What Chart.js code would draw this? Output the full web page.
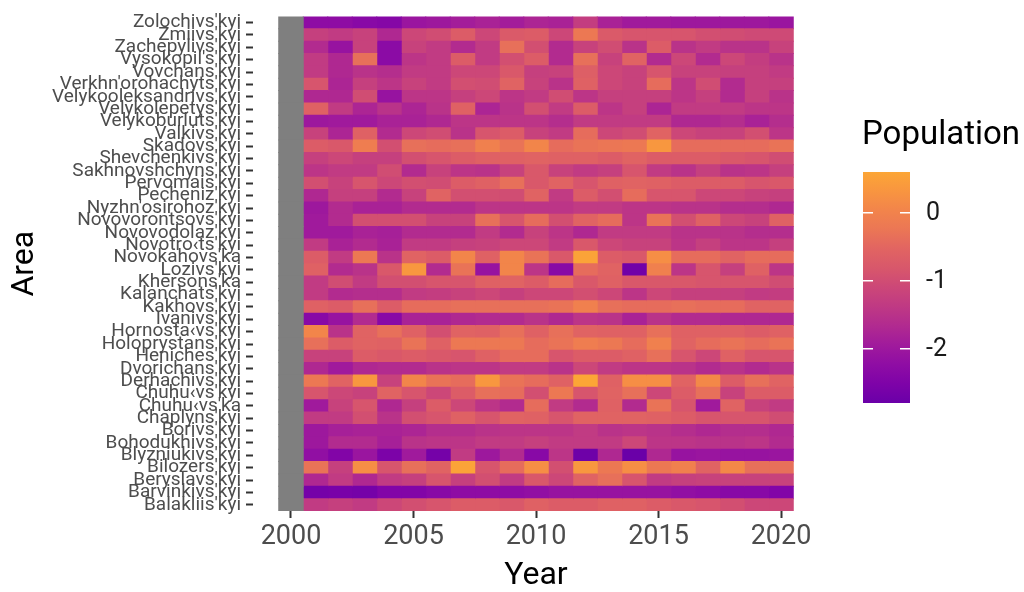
<!DOCTYPE html>
<html>
<head>
<meta charset="utf-8">
<script src="https://cdn.jsdelivr.net/npm/chart.js@4.4.1/dist/chart.umd.min.js"></script>
<style>
  html, body { margin: 0; padding: 0; background: #fff; }
  #chart { display: block; }
</style>
</head>
<body>
<canvas id="chart" width="1024" height="592"></canvas>
<script>
// ---- data (rows top to bottom as drawn) ----
const areas = [
  "Zolochivs'kyi", "Zmiivs'kyi", "Zachepylivs'kyi", "Vysokopil's'kyi", "Vovchans'kyi",
  "Verkhn'orohachyts'kyi", "Velykooleksandrivs'kyi", "Velykolepetys'kyi", "Velykoburluts'kyi", "Valkivs'kyi",
  "Skadovs'kyi", "Shevchenkivs'kyi", "Sakhnovshchyns'kyi", "Pervomais'kyi", "Pecheniz'kyi",
  "Nyzhn'osirohoz'kyi", "Novovorontsovs'kyi", "Novovodolaz'kyi", "Novotro‹ts'kyi", "Novokahovs'ka",
  "Lozivs'kyi", "Khersons'ka", "Kalanchats'kyi", "Kakhovs'kyi", "Ivanivs'kyi",
  "Hornosta‹vs'kyi", "Holoprystans'kyi", "Heniches'kyi", "Dvorichans'kyi", "Derhachivs'kyi",
  "Chuhu‹vs'kyi", "Chuhu‹vs'ka", "Chaplyns'kyi", "Borivs'kyi", "Bohodukhivs'kyi",
  "Blyzniukivs'kyi", "Bilozers'kyi", "Beryslavs'kyi", "Barvinkivs'kyi", "Balakliis'kyi"
];

const years = [2000, 2001, 2002, 2003, 2004, 2005, 2006, 2007, 2008, 2009, 2010,
               2011, 2012, 2013, 2014, 2015, 2016, 2017, 2018, 2019, 2020];
const yearTicks = [2000, 2005, 2010, 2015, 2020];
const legendTicks = [0, -1, -2];

// one row per area, one value per year (2000 missing)
const population = [
  [null,-2.25,-2.25,-2.35,-2.4,-2.05,-2.0,-1.9,-1.8,-1.9,-1.75,-1.8,-1.3,-1.8,-1.95,-1.95,-2.0,-2.0,-2.0,-2.0,-2.05],
  [null,-1.25,-1.35,-1.2,-1.7,-1.1,-1.0,-0.7,-1.1,-0.75,-0.7,-1.1,-0.2,-0.75,-0.85,-0.85,-0.85,-0.95,-1.0,-1.05,-1.05],
  [null,-1.65,-2.1,-1.2,-2.3,-1.2,-1.35,-1.65,-1.35,-0.35,-0.95,-1.65,-1.2,-1.0,-1.5,-0.7,-1.5,-1.35,-1.5,-1.5,-1.2],
  [null,-1.35,-1.7,-0.35,-2.3,-1.45,-1.35,-0.7,-1.35,-0.95,-0.7,-1.65,-0.35,-1.2,-0.55,-1.65,-1.1,-1.65,-1.1,-1.3,-1.5],
  [null,-1.35,-1.7,-1.5,-1.6,-1.35,-1.35,-1.1,-1.1,-0.8,-1.25,-1.2,-0.65,-1.1,-1.2,-0.85,-1.2,-1.2,-1.25,-1.25,-1.35],
  [null,-0.85,-1.75,-1.25,-1.45,-1.2,-1.35,-0.95,-1.0,-0.55,-1.2,-1.5,-0.6,-1.1,-1.2,-0.4,-1.45,-1.0,-1.65,-1.25,-1.25],
  [null,-1.7,-1.7,-1.0,-2.1,-1.45,-1.45,-1.25,-1.1,-1.45,-1.35,-1.0,-1.45,-1.25,-1.25,-1.25,-1.45,-1.25,-1.65,-1.25,-1.5],
  [null,-0.6,-1.35,-1.75,-1.5,-1.75,-1.5,-0.6,-1.75,-1.5,-0.95,-1.35,-0.7,-1.45,-1.25,-1.75,-1.35,-1.35,-1.35,-1.45,-1.45],
  [null,-2.0,-1.95,-1.95,-1.8,-1.8,-1.7,-1.45,-1.45,-1.45,-1.45,-1.6,-1.35,-1.35,-1.35,-1.35,-1.7,-1.7,-1.6,-1.8,-1.6],
  [null,-1.2,-1.75,-0.6,-1.65,-1.1,-1.0,-1.5,-0.85,-0.7,-1.2,-1.35,-0.4,-1.1,-1.0,-0.55,-1.1,-1.2,-1.2,-0.95,-1.45],
  [null,-0.7,-0.8,-0.1,-0.95,-0.35,-0.4,-0.35,-0.05,-0.3,0.05,-0.4,-0.3,-0.25,-0.2,0.35,-0.4,-0.4,-0.4,-0.4,-0.3],
  [null,-1.25,-1.1,-1.25,-1.25,-0.95,-0.85,-0.7,-0.6,-0.6,-0.55,-0.6,-0.6,-0.7,-0.55,-0.7,-0.7,-0.7,-0.8,-0.85,-1.0],
  [null,-1.45,-1.35,-1.35,-1.0,-1.65,-1.2,-1.45,-1.5,-1.2,-0.8,-1.2,-1.35,-1.25,-0.85,-1.35,-1.5,-1.25,-1.5,-1.45,-1.25],
  [null,-0.95,-1.2,-0.85,-1.1,-0.95,-1.0,-0.7,-0.6,-0.35,-0.8,-0.55,-0.85,-0.6,-0.55,-0.6,-0.7,-0.7,-0.7,-0.85,-0.8],
  [null,-1.7,-1.25,-1.25,-1.65,-1.2,-0.55,-0.95,-0.95,-1.0,-0.55,-1.35,-0.7,-0.95,-0.4,-0.85,-0.85,-1.1,-1.1,-1.2,-1.25],
  [null,-2.0,-1.65,-1.8,-1.8,-1.65,-1.65,-1.65,-1.45,-1.45,-1.45,-1.45,-1.35,-1.35,-1.45,-1.45,-1.5,-1.5,-1.6,-1.6,-1.7],
  [null,-1.95,-1.65,-0.95,-0.95,-0.95,-1.2,-1.2,-0.35,-0.85,-0.4,-0.95,-0.55,-0.4,-1.45,-0.3,-0.95,-0.6,-1.1,-1.2,-0.6],
  [null,-1.95,-1.95,-1.8,-1.85,-1.65,-1.65,-1.65,-1.35,-1.65,-1.2,-1.45,-1.7,-1.35,-1.35,-1.35,-1.5,-1.5,-1.5,-1.6,-1.6],
  [null,-1.35,-1.8,-1.65,-1.8,-1.35,-1.35,-1.25,-1.2,-1.1,-1.1,-1.35,-0.8,-1.1,-1.2,-1.2,-1.45,-1.25,-1.45,-1.45,-1.25],
  [null,-0.7,-1.35,-0.2,-1.5,-0.55,-0.7,0.05,-0.6,0.05,-0.3,-0.8,0.55,-0.7,-0.8,0.2,-0.4,-0.4,-0.55,-0.4,-0.4],
  [null,-0.6,-1.65,-1.5,-0.8,0.35,-1.65,-0.3,-2.1,0.05,-1.45,-2.35,-0.4,-0.55,-2.7,-0.05,-1.45,-0.85,-1.25,-0.6,-1.45],
  [null,-1.35,-1.0,-1.35,-0.95,-0.95,-0.85,-0.85,-0.6,-0.55,-0.7,-0.4,-0.8,-0.6,-0.8,-0.8,-0.8,-0.85,-0.85,-0.85,-1.0],
  [null,-1.35,-1.65,-1.6,-1.6,-1.35,-1.3,-1.2,-1.1,-1.25,-1.1,-1.1,-0.95,-1.1,-1.45,-1.1,-1.25,-1.25,-1.25,-1.35,-1.3],
  [null,-0.6,-0.7,-0.35,-0.7,-0.4,-0.4,-0.35,-0.35,-0.35,-0.35,-0.3,-0.05,-0.35,-0.4,-0.4,-0.35,-0.4,-0.4,-0.55,-0.55],
  [null,-2.35,-2.1,-1.65,-2.35,-1.8,-1.8,-1.7,-1.65,-1.65,-1.5,-1.7,-1.45,-1.5,-1.8,-1.5,-1.65,-1.65,-1.7,-1.7,-1.7],
  [null,0.05,-1.5,-0.55,-0.35,-0.6,-0.95,-0.55,-0.6,-0.35,-0.6,-0.35,-0.55,-0.6,-0.6,-0.35,-0.6,-0.6,-0.6,-0.7,-0.6],
  [null,-0.35,-0.7,-0.55,-0.6,-0.3,-0.6,-0.2,-0.2,-0.2,-0.4,-0.3,-0.1,-0.2,-0.4,-0.05,-0.55,-0.4,-0.3,-0.4,-0.3],
  [null,-1.2,-1.2,-0.7,-0.8,-0.7,-0.8,-0.85,-0.6,-0.4,-0.4,-0.85,-0.7,-0.7,-0.6,-0.35,-0.85,-1.1,-0.6,-0.85,-0.85],
  [null,-1.7,-1.95,-1.7,-1.65,-1.65,-1.5,-1.45,-1.45,-1.35,-1.35,-1.5,-1.1,-1.35,-1.45,-1.45,-1.5,-1.65,-1.5,-1.65,-1.5],
  [null,-0.2,-0.55,0.35,-1.2,0.05,-0.3,-0.4,0.35,-0.3,-0.4,-0.6,0.6,-0.6,0.2,0.2,-0.55,0.1,-0.7,-0.35,-0.55],
  [null,-0.85,-1.1,-1.2,-0.55,-0.85,-1.1,-0.7,-0.35,-0.4,-0.95,-0.2,-0.85,-0.55,-0.35,-1.1,-0.7,-0.35,-1.2,-0.7,-0.7],
  [null,-1.95,-1.2,-0.85,-1.7,-1.25,-0.7,-1.1,-1.45,-1.65,-0.4,-1.35,-1.65,-0.6,-1.65,-0.3,-0.85,-1.95,-0.55,-1.2,-1.35],
  [null,-1.35,-1.35,-0.95,-1.5,-0.95,-0.85,-0.6,-0.85,-0.55,-0.6,-0.85,-0.55,-0.55,-0.55,-0.6,-0.7,-0.85,-0.85,-0.85,-1.0],
  [null,-2.0,-1.85,-1.8,-1.8,-1.75,-1.6,-1.6,-1.5,-1.45,-1.45,-1.45,-1.35,-1.5,-1.45,-1.5,-1.6,-1.7,-1.6,-1.6,-1.7],
  [null,-2.0,-1.65,-1.65,-1.85,-1.5,-1.45,-1.45,-1.35,-1.35,-1.25,-1.35,-1.35,-1.35,-1.1,-1.45,-1.45,-1.5,-1.5,-1.45,-1.65],
  [null,-2.2,-2.45,-2.05,-2.55,-1.95,-2.65,-1.35,-2.0,-1.65,-2.35,-1.45,-2.75,-1.7,-2.8,-1.7,-2.1,-2.05,-2.1,-2.1,-2.05],
  [null,-0.3,-1.25,0.2,-0.85,-0.35,-0.55,0.55,-0.85,-0.4,0.2,-0.95,0.35,-0.2,0.2,-0.2,-0.05,-0.55,0.1,-0.35,-0.35],
  [null,-1.7,-1.35,-1.7,-1.35,-1.25,-0.85,-1.25,-0.95,-1.35,-0.8,-1.1,-0.55,-0.35,-0.85,-1.35,-1.25,-1.2,-1.2,-1.2,-1.2],
  [null,-2.65,-2.6,-2.65,-2.45,-2.45,-2.35,-2.25,-2.25,-2.25,-2.2,-2.1,-2.1,-2.1,-2.1,-2.1,-2.2,-2.25,-2.35,-2.35,-2.45],
  [null,-1.35,-1.25,-1.35,-1.1,-0.95,-0.85,-0.7,-0.7,-0.8,-0.6,-0.7,-0.7,-0.6,-0.6,-0.7,-0.8,-0.85,-0.95,-1.1,-1.1]
];

// ---- colour scale (plasma, 0.2 .. 0.8) ----
const plasmaStops = ['#6a00a8', '#7e03a8', '#8f0da4', '#a01a9c', '#b12a90', '#bf3984', '#cc4778',
                     '#d8576b', '#e16462', '#eb7655', '#f2844b', '#f89540', '#fca636'];
const NA_COLOR = '#7f7f7f';

const allValues = population.flat().filter(v => v !== null);
const vMin = Math.min(...allValues);
const vMax = Math.max(...allValues);

function hexToRgb(h) {
  return [parseInt(h.slice(1, 3), 16), parseInt(h.slice(3, 5), 16), parseInt(h.slice(5, 7), 16)];
}

function plasma(f) {
  f = Math.max(0, Math.min(1, f));
  const pos = f * (plasmaStops.length - 1);
  const i = Math.min(Math.floor(pos), plasmaStops.length - 2);
  const t = pos - i;
  const a = hexToRgb(plasmaStops[i]);
  const b = hexToRgb(plasmaStops[i + 1]);
  const c = a.map((x, k) => Math.round(x + (b[k] - x) * t));
  return `rgb(${c[0]},${c[1]},${c[2]})`;
}

function fillFor(v) {
  if (v === null) return NA_COLOR;
  return plasma((v - vMin) / (vMax - vMin));
}

// ---- colour bar legend ----
const colorBar = {
  id: 'colorBar',
  afterDraw(chart) {
    const ctx = chart.ctx;
    const x = 863, y = 172, w = 47, h = 231;
    ctx.save();
    const grad = ctx.createLinearGradient(0, y + h, 0, y);
    plasmaStops.forEach((c, i) => grad.addColorStop(i / (plasmaStops.length - 1), c));
    ctx.fillStyle = grad;
    ctx.fillRect(x, y, w, h);

    ctx.strokeStyle = '#ffffff';
    ctx.lineWidth = 1.5;
    ctx.fillStyle = '#1a1a1a';
    ctx.font = "25px Roboto, sans-serif";
    ctx.textBaseline = 'middle';
    ctx.textAlign = 'left';
    legendTicks.forEach(v => {
      const ty = y + h - (v - vMin) / (vMax - vMin) * h;
      ctx.beginPath();
      ctx.moveTo(x, ty); ctx.lineTo(x + 10, ty);
      ctx.moveTo(x + w - 10, ty); ctx.lineTo(x + w, ty);
      ctx.stroke();
      ctx.fillText(String(v), x + 63, ty + 1);
    });

    ctx.fillStyle = '#000000';
    ctx.font = "33px Roboto, sans-serif";
    ctx.textBaseline = 'middle';
    ctx.fillText('Population', x - 1, 136);
    ctx.restore();
  }
};

// ---- chart ----
const datasets = years.map((yr, j) => ({
  label: String(yr),
  data: areas.map(() => [yr - 0.5, yr + 0.5]),
  backgroundColor: population.map(row => fillFor(row[j])),
  borderWidth: 0,
  inflateAmount: 0.5,
  barPercentage: 1,
  categoryPercentage: 1,
  grouped: false
}));

const tickFont = { family: "Roboto, sans-serif", size: 19 };
const titleFont = { family: "Roboto, sans-serif", size: 32, lineHeight: 1 };

new Chart(document.getElementById('chart'), {
  type: 'bar',
  data: { labels: areas, datasets },
  plugins: [colorBar],
  options: {
    indexAxis: 'y',
    responsive: false,
    animation: false,
    layout: { padding: { top: 8, right: 205, bottom: 0, left: 0 } },
    plugins: { legend: { display: false }, tooltip: { enabled: false } },
    scales: {
      x: {
        type: 'linear',
        min: 1998.45,
        max: 2021.55,
        afterBuildTicks: scale => { scale.ticks = yearTicks.map(v => ({ value: v })); },
        afterFit: scale => { scale.height = 81; },
        border: { display: false },
        grid: { drawOnChartArea: false, tickLength: 7, tickColor: '#333333', tickWidth: 2 },
        ticks: {
          color: '#4d4d4d',
          font: { family: "Roboto, sans-serif", size: 27 },
          padding: 3,
          maxRotation: 0,
          callback: v => String(v)
        },
        title: { display: true, text: 'Year', color: '#000000', font: titleFont, padding: { top: 0, bottom: 0 } }
      },
      y: {
        type: 'category',
        offset: true,
        afterFit: scale => { scale.width = 253; },
        border: { display: false },
        grid: { drawOnChartArea: false, offset: false, tickLength: 7, tickColor: '#333333', tickWidth: 2 },
        ticks: { color: '#4d4d4d', font: tickFont, padding: 5, autoSkip: false },
        title: { display: true, text: 'Area', color: '#000000', font: titleFont, padding: { top: 9, bottom: 0 } }
      }
    }
  }
});
</script>
</body>
</html>
